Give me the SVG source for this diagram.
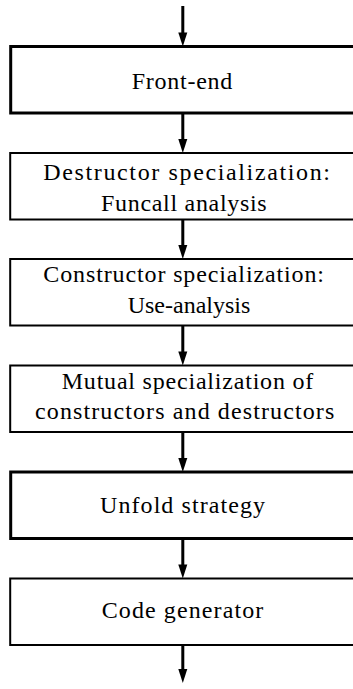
<svg xmlns="http://www.w3.org/2000/svg" width="353" height="689" viewBox="0 0 353 689">
<style>
  .box { fill: #ffffff; stroke: #000000; stroke-width: 2; }
  .thick { stroke-width: 3; }
  .wire { stroke: #000000; stroke-width: 3; fill: none; }
  .head { fill: #000000; stroke: none; }
  text { font-family: 'Liberation Serif', serif; font-size: 24px; fill: #000000; }
</style>
<defs>
  <path id="ah" d="M-4.5,-14 L4.5,-14 L0,0 Z"/>
</defs>
<rect width="353" height="689" fill="#ffffff"/>
<g id="connectors">
  <line class="wire" x1="182.8" y1="6" x2="182.8" y2="35"/>
  <use href="#ah" class="head" transform="translate(182.8,46.5)"/>
  <line class="wire" x1="182.8" y1="113" x2="182.8" y2="141"/>
  <use href="#ah" class="head" transform="translate(182.8,153)"/>
  <line class="wire" x1="182.8" y1="219.5" x2="182.8" y2="247"/>
  <use href="#ah" class="head" transform="translate(182.8,259)"/>
  <line class="wire" x1="182.8" y1="326" x2="182.8" y2="354"/>
  <use href="#ah" class="head" transform="translate(182.8,365.5)"/>
  <line class="wire" x1="182.8" y1="432" x2="182.8" y2="460"/>
  <use href="#ah" class="head" transform="translate(182.8,472)"/>
  <line class="wire" x1="182.8" y1="538.5" x2="182.8" y2="567"/>
  <use href="#ah" class="head" transform="translate(182.8,578.5)"/>
  <line class="wire" x1="182.8" y1="645" x2="182.8" y2="671"/>
  <use href="#ah" class="head" transform="translate(182.8,683)"/>
</g>
<g id="front-end">
  <rect class="box thick" x="10.7" y="46.5" width="350" height="66.5"/>
  <text x="131.7" y="89.3" textLength="100.6">Front-end</text>
</g>
<g id="destructor-specialization">
  <rect class="box" x="10.2" y="153" width="350" height="66.5"/>
  <text x="43.3" y="180" textLength="286.7">Destructor specialization:</text>
  <text x="101" y="211" textLength="165.7">Funcall analysis</text>
</g>
<g id="constructor-specialization">
  <rect class="box" x="10.2" y="259" width="350" height="66.5"/>
  <text x="43.3" y="282" textLength="280.7">Constructor specialization:</text>
  <text x="189" y="313" text-anchor="middle">Use-analysis</text>
</g>
<g id="mutual-specialization">
  <rect class="box" x="10.2" y="365.5" width="350" height="66.5"/>
  <text x="61.7" y="389.3" textLength="251.6">Mutual specialization of</text>
  <text x="35" y="419.3" textLength="299.3">constructors and destructors</text>
</g>
<g id="unfold-strategy">
  <rect class="box thick" x="10.7" y="472" width="350" height="66.5"/>
  <text x="100" y="513.3" textLength="165">Unfold strategy</text>
</g>
<g id="code-generator">
  <rect class="box" x="10.2" y="578.5" width="350" height="66.5"/>
  <text x="101.7" y="618.3" textLength="161.6">Code generator</text>
</g>
</svg>
